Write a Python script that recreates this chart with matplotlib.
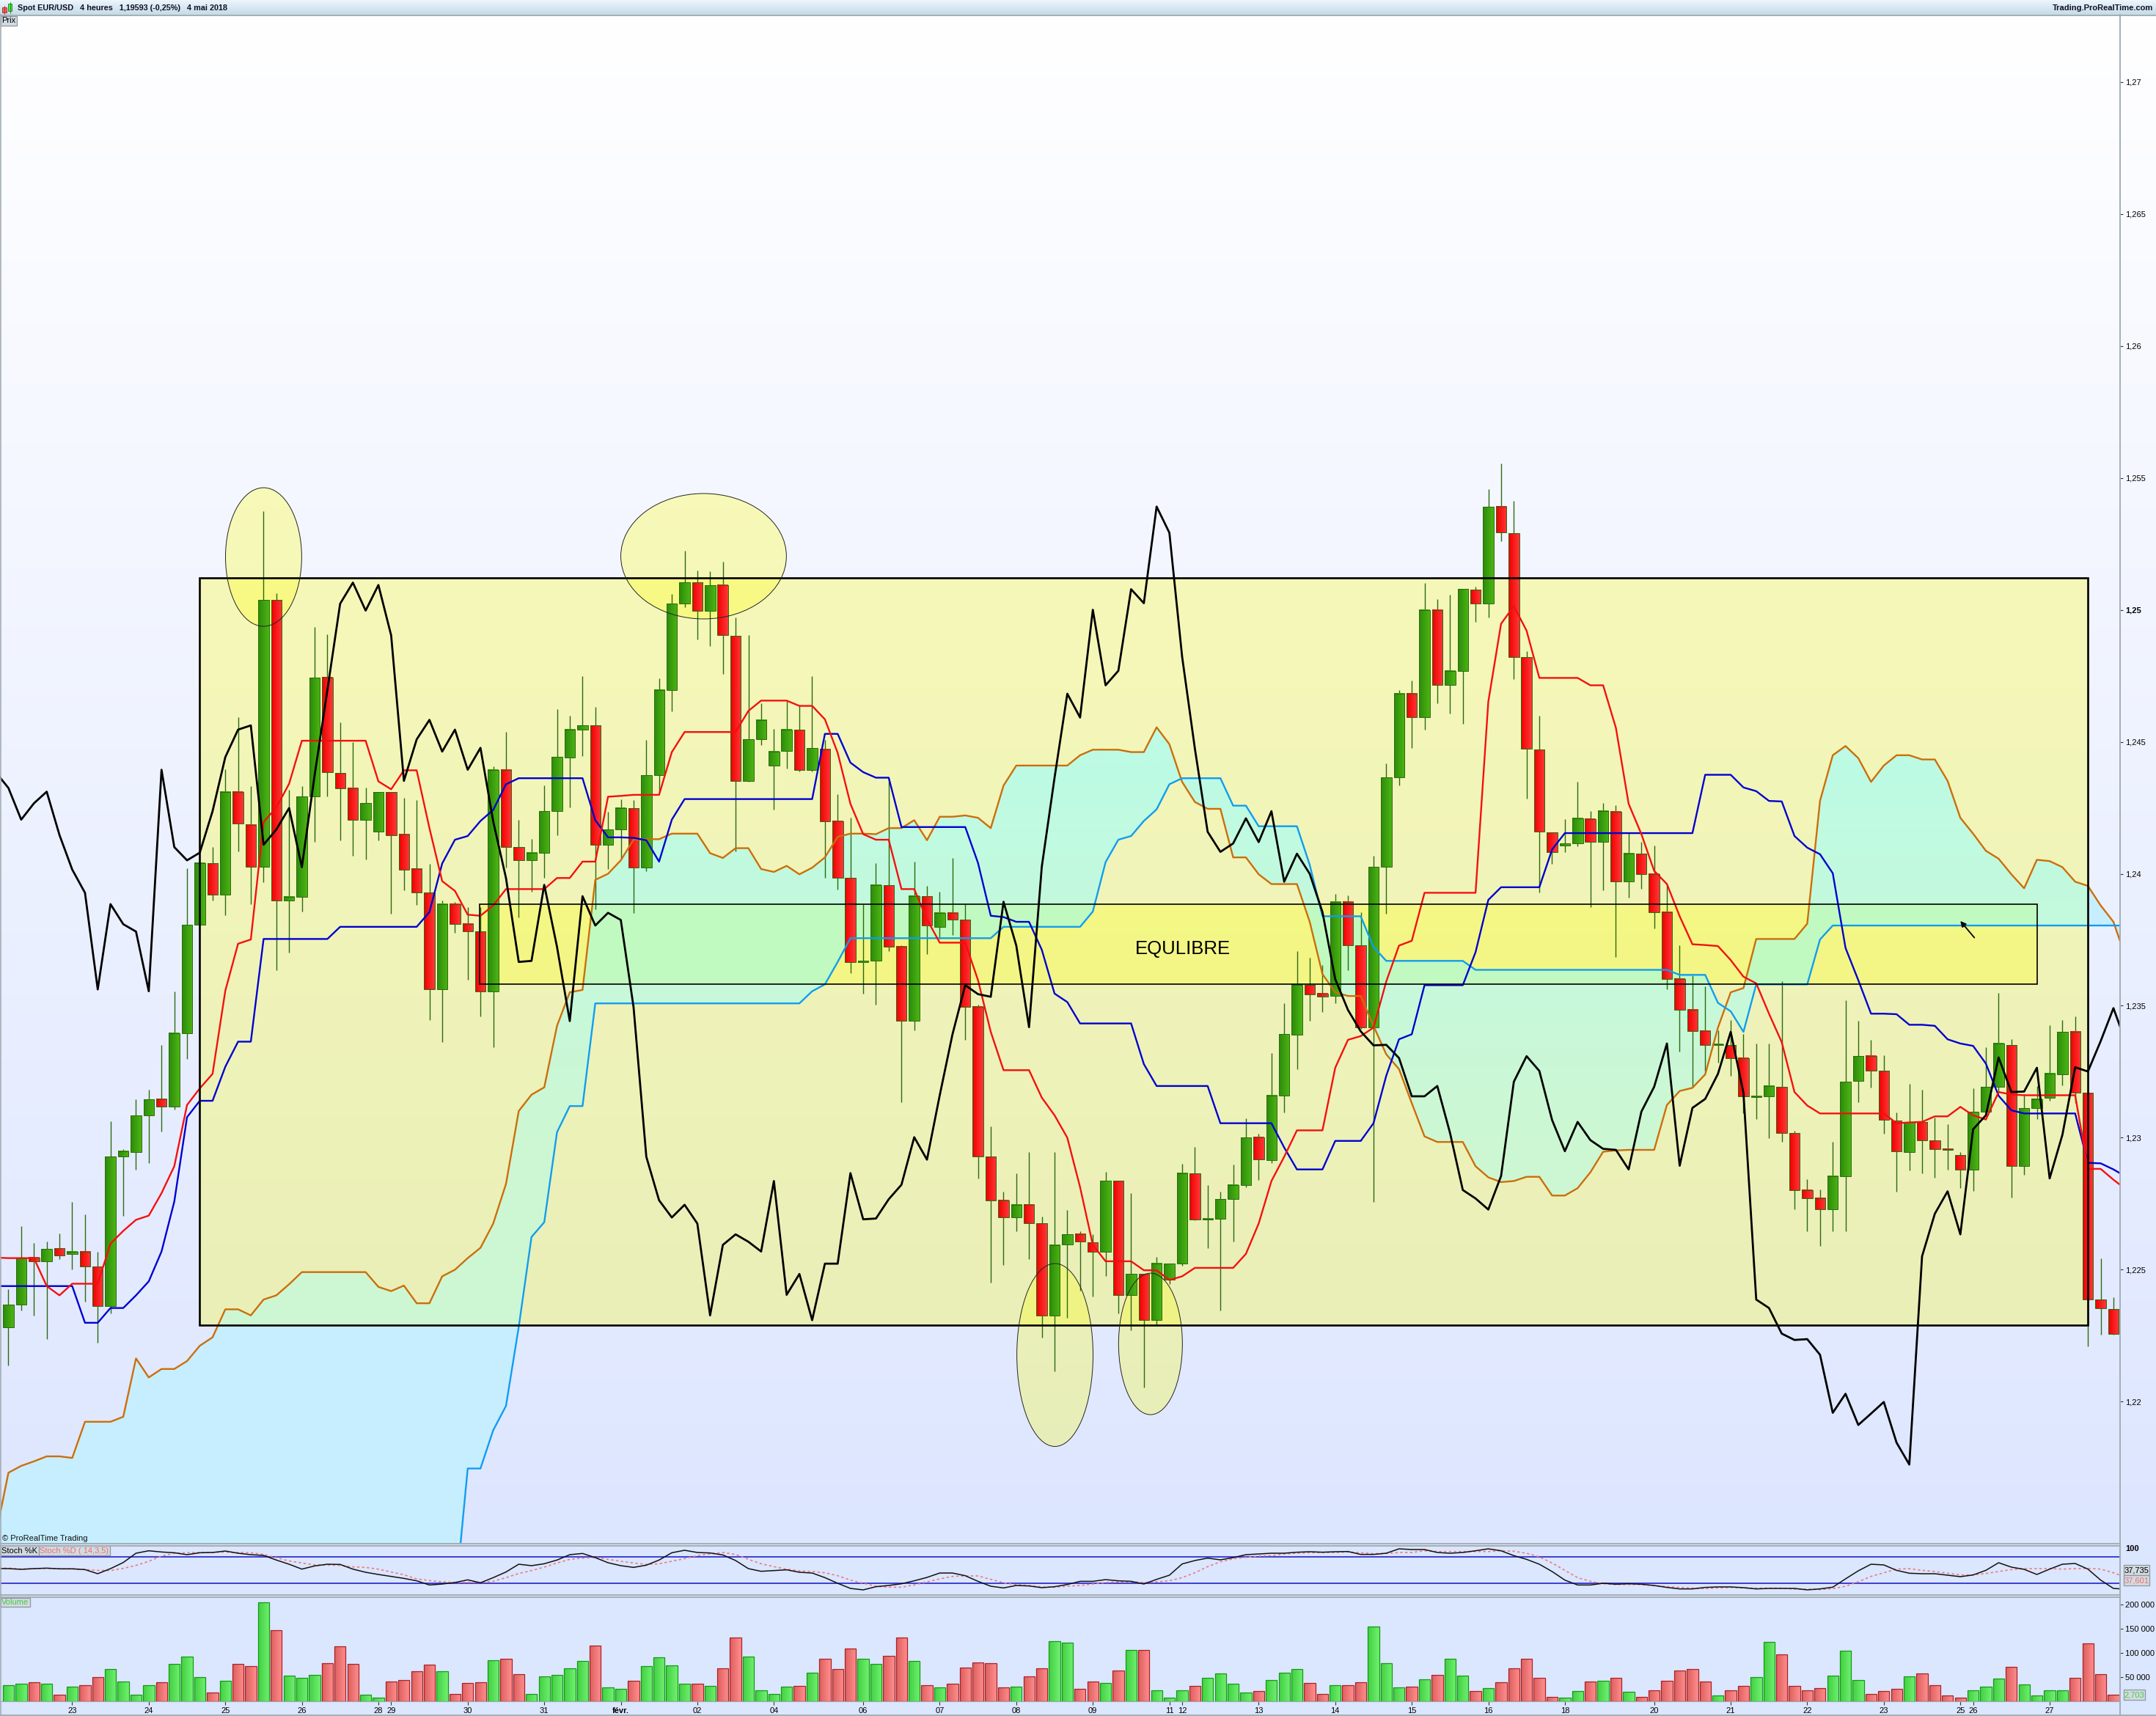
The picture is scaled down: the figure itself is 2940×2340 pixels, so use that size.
import numpy as np
import matplotlib
matplotlib.use("Agg")
import matplotlib.pyplot as plt
from matplotlib.patches import Rectangle, Ellipse
from matplotlib.path import Path

plt.rcParams['font.family'] = ['Liberation Sans', 'DejaVu Sans']

W, H = 2940, 2340

# prix en 1e-5
open_px = [122283,122369,122546,122532,122581,122560,122569,122511,122362,122928,122947,123085,123145,123117,123396,123806,
124041,123922,124311,124186,124027,125037,123898,123912,124292,124744,124382,124325,124205,124161,124309,124150,
124018,123928,123562,123885,123809,123781,123555,124394,124101,124051,124080,124237,124440,124546,124562,124110,
124168,124249,124025,124373,124696,125023,125103,124997,125094,124901,124352,124509,124410,124465,124546,124394,
124472,124198,123984,123666,123670,123956,123723,123442,123915,123799,123852,123825,123495,122928,122763,122698,
122746,122675,122327,122597,122634,122604,122569,122836,122405,122484,122309,122463,122523,122866,122691,122694,
122767,122822,123002,122915,123161,123389,123578,123546,123537,123894,123728,123419,124027,124364,124682,124592,
125000,124716,124769,125076,125025,125391,125290,124820,124470,124157,124108,124115,124207,124120,124235,123970,
124076,124000,123855,123601,123484,123403,123350,123350,123302,123154,123157,123193,123018,122802,122770,122728,
122855,123216,123309,123253,123064,122947,123060,122991,122956,122935,122880,123099,123193,123350,122894,123113,
123150,123240,123401,123168,122387,122352]
close_px = [122369,122544,122532,122578,122555,122569,122511,122362,122928,122949,123085,123145,123117,123396,123806,124041,
123922,124311,124189,124027,125037,123898,123912,124292,124742,124385,124325,124205,124267,124311,124147,124016,
123928,123562,123885,123809,123781,123555,124394,124101,124051,124080,124237,124442,124546,124562,124110,124168,
124249,124025,124373,124696,125023,125103,124997,125094,124903,124352,124509,124583,124463,124546,124394,124477,
124198,123984,123666,123670,123958,123723,123442,123915,123804,123852,123825,123495,122928,122763,122698,122746,
122675,122327,122594,122634,122606,122569,122836,122405,122484,122309,122523,122523,122866,122691,122694,122767,
122822,123002,122917,123161,123392,123578,123544,123534,123894,123728,123419,124027,124364,124682,124592,125000,
124714,124769,125078,125025,125391,125292,124822,124474,124159,124083,124115,124210,124120,124237,123970,124076,
124000,123855,123601,123484,123403,123350,123352,123302,123157,123157,123196,123018,122802,122770,122728,122855,
123212,123309,123253,123067,122949,123060,122991,122958,122954,122880,123099,123193,123357,122894,123113,123147,
123242,123401,123170,122387,122355,122258]
high_px = [122426,122664,122601,122606,122636,122758,122710,122569,123062,122956,123147,123182,123350,123555,124021,124041,
124101,124396,124592,124332,125375,125062,124318,124332,124935,124908,124574,124498,124327,124311,124309,124288,
124279,124037,123898,123894,123873,123873,124408,124537,124203,124131,124334,124624,124599,124749,124631,124235,
124283,124279,124507,124739,125060,125223,125150,125145,125182,124970,124903,124645,124548,124656,124638,124749,
124507,124302,124212,123885,124039,124359,123728,124046,123954,123931,124060,123885,123504,123044,122795,122864,
122947,122700,122947,122726,122647,122634,122871,122836,122790,122484,122548,122523,122901,122965,122822,122795,
122899,123074,123014,123320,123509,123707,123682,123654,123924,123919,123855,124067,124419,124696,124733,125101,
125041,125057,125078,125087,125456,125555,125414,124843,124599,124157,124207,124348,124237,124269,124260,124154,
124122,124106,123963,123728,123615,123574,123408,123445,123394,123357,123357,123594,123025,122843,122804,122984,
123521,123442,123371,123313,123097,123205,123182,123076,123051,122947,123187,123343,123548,123373,123166,123196,
123426,123445,123461,123168,122544,122396]
low_px = [122136,122346,122327,122237,122541,122502,122378,122223,122334,122703,122880,122905,123023,123108,123299,123806,
123898,123843,124085,123885,123968,123634,123700,123857,124120,124292,124127,124067,124053,124127,123848,123938,
123882,123447,123362,123776,123599,123461,123343,124025,123834,123933,123984,124147,124251,124445,123866,124018,
124053,123850,124011,124309,124615,125009,124887,124864,124756,124085,124348,124488,124242,124398,124387,124387,
123986,123940,123624,123546,123504,123707,123136,123408,123696,123753,123767,123371,122846,122452,122518,122647,
122541,122244,122115,122318,122422,122399,122475,122334,122270,122053,122293,122445,122514,122687,122583,122346,
122606,122813,122841,122905,123097,123260,123442,123475,123509,123636,123412,122758,123848,124336,124477,124546,
124645,124606,124569,124954,124970,125260,124737,124286,123928,124037,124083,124104,123873,123938,123684,123910,
123942,123792,123562,123327,123191,123251,123286,123235,123094,123071,122998,122986,122728,122647,122590,122645,
122645,123136,123189,123016,122795,122875,122866,122848,122880,122809,122799,123090,123177,122774,122859,123071,
123140,123198,123131,122210,122253,122253]

# ichimoku, de la bougie -1 a la bougie 166
tenkan_px = ([122546,122544,122544,122544,122438,122403,122447,122447,122447,122599,122647,122689,122705,122790,122892,
123124,123187,123242,123557,123735,123751,124196,124251,124341] + [124504]*6 +
[124350,124320,124392,124392,124173,123972,123935,123845,123841,123880] + [123942]*4 + [123984]*2 + [124046]*2 +
[124292,124295] + [124299]*3 + [124461] + [124537]*5 + [124617] + [124656]*3 + [124636]*2 + [124585,124458,124265,124150] +
[124129]*2 + [123942]*2 + [123827] + [123739]*3 + [123597,123401] + [123256]*3 + [123152,123085,123000,122813,122594] +
[122532]*3 + [122498]*2 + [122461,122475] + [122507]*4 + [122560,122675,122836,122928] + [123028]*3 +
[123265,123371,123385,123417,123592,123728,123746] + [123928]*5 + [124652,124947,125014,124921] + [124742]*4 + [124714]*2 +
[124553,124265,124150,124011,123961,123839,123733,123730,123726,123673,123610,123585,123470,123362,123173,123122] +
[123092]*6 + [123055,123058,123060,123081,123081,123117,123085,123069,123173,123164] + [123161]*5 + [122882]*2 + [122841,122804])
kijun_px = ([122438]*7 + [122299]*2 + [122355]*2 + [122403,122456,122569,122758,123078] + [123140]*2 + [123269] + [123364]*2 +
[123753]*6 + [123799]*7 + [123855,124039,124129,124143,124200,124242,124339] + [124362]*6 + [124203,124138,124138,124136,124127,124046,124205] +
[124283]*11 + [124530]*2 + [124421,124385,124364,124364] + [124177]*6 + [124041,123841,123836,123818,123818,123712,123546,123514] +
[123433]*5 + [123279] + [123196]*5 + [123055]*5 + [122963] + [122880]*3 + [122988]*3 + [123055,123235,123373,123392] + [123578]*4 +
[123703,123901] + [123949]*4 + [124092] + [124154]*11 + [124375]*3 + [124327,124313,124276,124274,124143,124099,124074,124002,123719,123597,123470,123470,123468,123428,123428,123424,123373,123357,123348,123281,123159,123104] +
[123092]*5 + [122905,122903,122880,122852])
senkou_a_px = ([121493,121731,121757,121774,121793,121793,121787,121924,121924,121924,121943,122164,122092,122124,122124,122154,122212,122244,122350,122350,122327,122387,122403,122445] +
[122491]*6 + [122435,122419,122440,122373,122373,122475,122500,122544,122583,122675,122825,123101,123163,123191,123424,123551,123560,123977,124000,124051,124129,124131,124131] +
[124152]*3 + [124078,124060,124097,124097,124018,124007,124030,123998,124023,124062,124140,124152,124152,124150,124173,124173,124203,124127,124216,124216,124221,124212,124173,124334] +
[124410]*5 + [124449,124470,124470,124470,124461,124461,124555,124491,124348,124272,124246,124246,124062,124062,123998] + [123961]*3 +
[123818,123620,123551,123537,123537,123424,123316,123260,123131,123005,122984,122984,122984,122892,122850,122832,122836,122852,122852,122781,122781,122809,122869,122947,122952,122954,122954,122954,
123124,123177,123189,123240,123417,123551,123567] + [123753]*4 + [123811,124276,124449,124484,124438,124348,124410,124449,124449,124433,124433,124352,124212,124152,124087,124057,123998,123945,124053,124048,124025,123970,123954,123880,123818,123677])
# sous le bas du panneau avant la bougie 35
senkou_b_px = ([120500]*36 + [121240,121747,121747,121892,121984,122283,122624,122680,123021,123120,123120] + [123509]*17 + [123555,123581,123666] +
[123756]*12 + [123799]*7 + [123857,124044,124129,124143,124200,124244,124339] + [124362]*4 + [124258]*2 + [124180]*4 + [124034] + [123839]*4 + [123723] + [123670]*7 +
[123636]*16 + [123617]*3 + [123511,123479,123401] + [123581]*5 + [123751] + [123804]*24)
# fin du chikou : cours posterieurs a la fenetre, bougies 140 a 166
chikou_later_px = [122234,122237,122178,121958,122030,121912,121955,121999,121845,121762,122551,122712,122797,122634,123032,123085,123304,123173,123175,123265,122846,123011,123267,123251,123366,123491,123357]

stoch_k = [53.3,53.3,51.7,53.3,54.4,52.8,52.8,51.1,41.7,53.3,67.2,88.3,93.9,91.1,89.4,85,89.4,90,93.3,88.3,85,83.3,72.8,63.3,52.2,59.4,63.3,62.8,52.2,45,40,35.6,31.1,25.6,16.1,18.3,21.7,27.8,21.1,32.8,45.6,63.3,60,64.4,72.8,85,87.8,78.3,66.7,60,56.1,61.1,72.8,89.4,95,90,88.9,84.4,71.7,
53.3,47.2,48.9,50.6,45,43.3,32.8,20,8.3,5,12.2,15,18.9,25.6,33.3,43.3,43.3,37.2,24.4,13.3,9.4,15,13.9,10,12.2,17.2,24.4,24.4,28.3,25.6,24.4,18.3,28.9,38.3,63.9,71.7,77.2,73.3,78.3,85,86.7,88.3,88.3,90.6,91.7,90.6,91.7,92.2,85.6,85.6,88.3,98.3,96.7,96.7,90,88.3,90,
93.9,98.3,93.9,82.8,74.4,63.3,46.7,27.2,16.1,16.1,20,17.8,18.9,17.8,15,10.6,7.2,7.2,10.6,11.7,11.7,10,7.2,8.3,8.3,8.3,5,7.2,11.1,30,48.3,63.3,61.7,49.4,42.8,41.7,41.7,38.3,35,38.9,49.4,66.7,56.7,51.7,40,52.2,63.3,65,52.2,27.2,8.3,6.5]
stoch_d = [54.4,54.4,52.2,53.3,53.9,53.3,53.3,51.1,49.4,48.9,53.9,60.6,70,81.7,88.3,89.4,90,90,91.1,90,89.4,85.6,78.3,70.6,66.1,61.7,61.7,60.6,57.2,56.1,52.2,45.6,39.4,30,26.1,23.3,21.7,22.2,21.7,24.4,32.8,42.2,48.9,56.7,66.1,74.4,77.2,78.9,74.4,70,66.1,62.8,64.4,70,76.1,82.8,86.7,90,85.6,
74.4,64.4,57.8,52.2,48.3,46.7,43.9,37.2,27.2,20,13.3,11.1,11.1,16.1,23.3,30,35.6,36.7,36.7,28.9,21.1,16.7,15,11.7,11.1,13.3,15,18.3,21.7,23.3,23.3,21.7,23.3,25.6,32.8,43.9,57.8,68.9,75.6,78.9,81.7,82.8,86.7,88.3,89.4,90,90,91.1,89.4,87.2,87.8,90,90,93.9,92.2,92.2,92.2,
92.2,92.2,93.9,92.8,88.3,80,66.1,49.4,32.8,24.4,18.9,17.2,17.2,17.2,14.4,12.2,10.6,8.9,7.8,9.4,10.6,9.4,8.9,8.9,8.9,6.7,6.7,5.6,7.8,13.3,23.3,35.6,43.9,52.2,53.3,49.4,46.7,42.8,38.9,38.9,42.2,46.7,51.1,53.3,53.3,53.3,52.2,53.3,53.9,52.2,43.9,33]

volume = [32000,35000,38100,35000,12200,28900,32000,48700,65500,39600,12200,32000,38100,76100,91400,48700,16800,41100,76100,71600,204100,146200,51800,47200,53300,77700,112700,76100,12200,6100,39600,42600,60900,74600,60900,13700,36500,38100,83800,86800,54800,13700,50300,53300,67000,82200,114200,27400,24400,41100,71600,89800,73100,35000,35000,30500,67000,131000,
91400,22800,13700,28900,30500,57900,86800,65500,108100,86800,76100,92900,131000,82200,32000,27400,35000,68500,79200,77700,27400,28900,50300,67000,123300,120300,24400,39600,36500,62400,105100,105100,22800,6100,22800,30500,47200,56300,35000,16800,19800,42600,57900,65500,36500,15200,32000,32000,38100,153800,77700,27400,28900,44200,53300,86800,51800,
19800,25900,38100,67000,86800,47200,9100,6100,19800,39600,41100,47200,18300,9100,22800,41100,62400,65500,39600,10700,21300,30500,48700,121800,95900,30500,22800,25900,51800,103600,42600,15200,19800,24400,50300,56300,32000,10700,6100,22800,28900,45700,70000,33500,10700,21300,22800,47200,118800,54800,12200]

price_ticks = [1.22,1.225,1.23,1.235,1.24,1.245,1.25,1.255,1.26,1.265,1.27]
price_labels = ['1,22','1,225','1,23','1,235','1,24','1,245','1,25','1,255','1,26','1,265','1,27']
vol_ticks = [50000,100000,150000,200000]
vol_labels = ['50 000','100 000','150 000','200 000']
date_pos = [5,11,17,23,29,30,36,42,48,54,60,67,73,79,85,91,92,98,104,110,116,122,129,135,141,147,153,154,160]
date_labels = ['23','24','25','26','28','29','30','31','févr.','02','04','06','07','08','09','11','12','13','14','15','16','18','20','21','22','23','25','26','27']

o = np.array(open_px)/1e5
c = np.array(close_px)/1e5
hi = np.array(high_px)/1e5
lo = np.array(low_px)/1e5
x = np.arange(len(o))
xl = np.arange(-1, 167)
up = c >= o
span_a = np.array(senkou_a_px)/1e5
span_b = np.array(senkou_b_px)/1e5

XLIM = (-0.661, 165.52)

def panel(top, bottom, right=2891):
    return fig.add_axes([0, 1-bottom/H, right/W, (bottom-top)/H], facecolor='none')

def hgrad(left, right):
    # degrade horizontal d'un corps de bougie ou d'une barre
    g = np.linspace(0, 1, 16)[None, :, None]
    return (np.array(left)*(1-g) + np.array(right)*g)/255

def grad_bars(a, xs, bottoms, tops, width, left, right, edge, lw, z):
    g = hgrad(left, right)
    for xi, b, t_ in zip(xs, bottoms, tops):
        a.imshow(g, aspect='auto', extent=(xi-width/2, xi+width/2, b, t_), zorder=z, interpolation='bilinear')
    a.bar(xs, np.array(tops)-np.array(bottoms), bottom=bottoms, width=width, facecolor='none', edgecolor=edge, lw=lw, zorder=z+0.1)

fig = plt.figure(figsize=(W/100, H/100), dpi=100)

# fond : degrade
ax_bg = fig.add_axes([0, 0, 1, 1], zorder=0)
bg = np.zeros((H, 1, 3))
t = np.clip((np.arange(H)-22)/(1940-22), 0, 1.1)
bg[:, 0, 0] = 255-31*t
bg[:, 0, 1] = 255-23*t
bg[:, 0, 2] = 255
bg[:20, 0, 0] = np.linspace(235, 198, 20)
bg[:20, 0, 1] = np.linspace(245, 220, 20)
bg[:20, 0, 2] = np.linspace(251, 232, 20)
bg[2105:, 0] = (219, 230, 255)
ax_bg.imshow(bg/255, aspect='auto', extent=(0, W, H, 0))
ax_bg.axis('off')

# prix
ax = panel(22, 2104)
ax.set_zorder(1)
cloud = ax.fill_between(xl, span_a, span_b, color='#C6EEFF', lw=0, zorder=1)

box_x0, box_x1, box_y0, box_y1 = 14.97, 163.0, 1.22291, 1.25122
eq_x0, eq_x1, eq_y0, eq_y1 = 36.93, 159.0, 1.23581, 1.23885
yellow = dict(facecolor=(1, 1, 0, 0.28), edgecolor='none', zorder=2)
ax.add_patch(Rectangle((box_x0, box_y0), box_x1-box_x0, box_y1-box_y0, **yellow))
ax.add_patch(Rectangle((eq_x0, eq_y0), eq_x1-eq_x0, eq_y1-eq_y0, **yellow))
ellipses = [(20.0, 1.25200, 5.97, 0.00525), (54.49, 1.25203, 12.98, 0.00475),
            (82.03, 1.22177, 5.97, 0.00693), (89.52, 1.22219, 5.0, 0.00536)]
for ex, ey, ew, eh in ellipses:
    ax.add_patch(Ellipse((ex, ey), ew, eh, facecolor=(1, 1, 0, 0.28), edgecolor='none', zorder=2))
    ax.add_patch(Ellipse((ex, ey), ew, eh, facecolor='none', edgecolor='#222222', lw=0.7, zorder=7))

# nuage vu a travers les rectangles
cloud_path = Path(cloud.get_paths()[0].vertices, cloud.get_paths()[0].codes)
grad = np.array([[[189, 251, 228]], [[205, 247, 211]]], dtype=float)/255
im1 = ax.imshow(grad, aspect='auto', extent=(box_x0, box_x1, box_y0, box_y1), origin='upper',
                interpolation='bilinear', zorder=2.5)
im1.set_clip_path(cloud_path, transform=ax.transData)
im2 = ax.imshow(np.array([[[192, 250, 192]]], dtype=float)/255, aspect='auto',
                extent=(eq_x0, eq_x1, eq_y0, eq_y1), zorder=2.6)
im2.set_clip_path(cloud_path, transform=ax.transData)

ax.vlines(x, lo, hi, color='#2C6A10', lw=1.0, zorder=3)
body_bottom = np.minimum(o, c)
body_top = body_bottom + np.maximum(np.abs(c-o), 0.00003)
grad_bars(ax, x[up], body_bottom[up], body_top[up], 0.83, (44, 140, 10), (76, 180, 20), '#2C6A10', 0.7, 3.5)
grad_bars(ax, x[~up], body_bottom[~up], body_top[~up], 0.83, (240, 0, 0), (255, 56, 56), '#2C6A10', 0.7, 3.5)

ax.plot(xl, span_a, color='#CC6E0A', lw=1.7, zorder=4)
ax.plot(xl, span_b, color='#109DF0', lw=1.7, zorder=4)
ax.plot(xl, np.array(kijun_px)/1e5, color='#0000D0', lw=1.7, zorder=4.2)
ax.plot(xl, np.array(tenkan_px)/1e5, color='#F50F0F', lw=1.7, zorder=4.4)
chikou = np.r_[c[25:], np.array(chikou_later_px)/1e5]
ax.plot(xl, chikou, color='black', lw=2.0, zorder=5)

ax.add_patch(Rectangle((box_x0, box_y0), box_x1-box_x0, box_y1-box_y0, fill=False, edgecolor='black', lw=1.9, zorder=6))
ax.add_patch(Rectangle((eq_x0, eq_y0), eq_x1-eq_x0, eq_y1-eq_y0, fill=False, edgecolor='black', lw=1.2, zorder=6))
ax.text(92.05, 1.23715, 'EQULIBRE', fontsize=18.5, ha='center', va='center', color='black', zorder=7)
ax.annotate('', xy=(153.0, 1.23821), xytext=(154.1, 1.23758), zorder=7,
            arrowprops=dict(arrowstyle='-|>', color='black', lw=1.3, mutation_scale=11, shrinkA=0, shrinkB=0))

ax.set_xlim(*XLIM)
ax.set_ylim(1.21465, 1.27249)
ax.set_xticks([])
ax.yaxis.tick_right()
ax.set_yticks(price_ticks)
ax.set_yticklabels(price_labels, fontsize=8)
ax.tick_params(axis='y', length=3, width=0.8, pad=2, color='#333333')
ax.get_yticklabels()[price_labels.index('1,25')].set_fontweight('bold')

# stochastique
ax2 = panel(2107, 2174)
ax2.set_zorder(1)
ax2.axhline(80, color='#2222CC', lw=1.2)
ax2.axhline(20, color='#2222CC', lw=1.2)
ax2.plot(xl, stoch_d, color='#EE7C7C', lw=1.2, ls=(0, (2, 2)))
ax2.plot(xl, stoch_k, color='#111111', lw=1.1)
ax2.set_xlim(*XLIM)
ax2.set_ylim(-5, 106.7)
ax2.set_xticks([])
ax2.yaxis.tick_right()
ax2.set_yticks([100])
ax2.set_yticklabels(['100'], fontsize=8, fontweight='bold')
ax2.tick_params(axis='y', length=0, pad=5)

# volume
ax3 = panel(2177, 2319.5)
ax3.set_zorder(1)
vol = np.array(volume)
grad_bars(ax3, x[up], np.zeros(up.sum()), vol[up], 0.88, (66, 208, 66), (112, 240, 112), '#129A12', 0.9, 2)
grad_bars(ax3, x[~up], np.zeros((~up).sum()), vol[~up], 0.88, (222, 96, 96), (255, 140, 140), '#A82222', 0.9, 2)
ax3.set_xlim(*XLIM)
ax3.set_ylim(0, 216700)
ax3.yaxis.tick_right()
ax3.set_yticks(vol_ticks)
ax3.set_yticklabels(vol_labels, fontsize=8)
ax3.tick_params(axis='y', length=3, width=0.8, pad=2, color='#333333')
ax3.set_xticks(date_pos)
ax3.set_xticklabels(date_labels, fontsize=8)
ax3.tick_params(axis='x', length=3.5, width=0.8, pad=2.5, color='#333333')
ax3.get_xticklabels()[date_labels.index('févr.')].set_fontweight('bold')

for a in (ax, ax2, ax3):
    for s in a.spines.values():
        s.set_visible(False)

# decor en pixels
ov = fig.add_axes([0, 0, 1, 1], zorder=10, facecolor='none')
ov.set_xlim(0, W)
ov.set_ylim(H, 0)
ov.axis('off')
gris = '#A3AEB6'
ov.plot([0, W], [20.5, 20.5], color=gris, lw=1.4)
ov.plot([0, W], [2339, 2339], color=gris, lw=1.4)
for y0 in (2104.5, 2107.5, 2174.5, 2177.5):
    ov.plot([0, 2891], [y0, y0], color=gris, lw=1.4)
ov.plot([0.8, 0.8], [20, 2339], color=gris, lw=1.2)
ov.plot([2891, 2891], [20, 2339], color=gris, lw=1.4)
ov.plot([0, 2891], [2319.5, 2319.5], color=gris, lw=0.8)

ov.add_patch(Rectangle((3.5, 10), 6, 7, facecolor='#EE6666', edgecolor='#AA2222', lw=0.6))
ov.add_patch(Rectangle((11.5, 5), 5, 10, facecolor='#55DD55', edgecolor='#118811', lw=0.6))
ov.plot([6.5, 6.5], [8, 19], color='#AA2222', lw=0.6)
ov.plot([14, 14], [3, 18], color='#118811', lw=0.6)
ov.text(24, 11, 'Spot EUR/USD   4 heures   1,19593 (-0,25%)   4 mai 2018', fontsize=7.8, fontweight='bold',
        va='center', ha='left', color='#111122')
ov.text(2936, 11, 'Trading.ProRealTime.com', fontsize=8, fontweight='bold', va='center', ha='right', color='#111122')

def tag(x0, y0, x1, y1, txt, col='black', fs=8, face='#D3DBE2'):
    ov.add_patch(Rectangle((x0, y0), x1-x0, y1-y0, facecolor=face, edgecolor='#8C979E', lw=0.9))
    ov.text((x0+x1)/2, (y0+y1)/2, txt, fontsize=fs, color=col, ha='center', va='center')

tag(0.5, 21.5, 23.5, 34.5, 'Prix')
tag(0.5, 2108, 53, 2121, 'Stoch %K')
tag(53, 2108, 150, 2121, 'Stoch %D ( 14,3,5)', col='#EE6E6E')
tag(0.5, 2178.5, 41, 2191, 'Volume', col='#44CC44')
ov.text(3, 2098, '© ProRealTime Trading', fontsize=8, va='center', ha='left', color='#111111')
tag(2896, 2134, 2931, 2148, '37,735')
tag(2896, 2148, 2931, 2162, '37,601', col='#EE6E6E')
tag(2896, 2304, 2925, 2318, '2,703', col='#44CC44')

fig.savefig('out.png', dpi=100)
